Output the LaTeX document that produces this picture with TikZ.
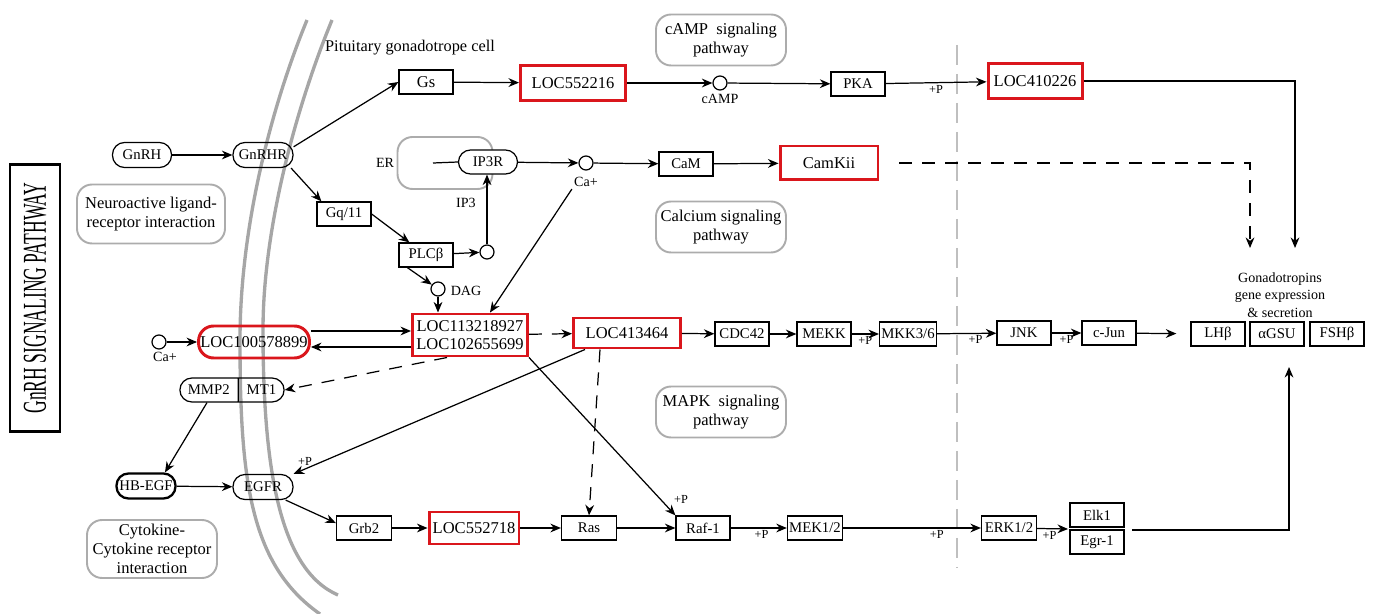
\documentclass[tikz,border=0pt]{standalone}
\usepackage{fontspec}
\setmainfont{Liberation Serif}
\usetikzlibrary{arrows.meta,shapes.multipart,positioning}

\definecolor{locred}{RGB}{218,22,28}

\begin{document}
\begin{tikzpicture}[x=0.02cm, y=-0.02cm,
	basic/.style    = {draw, rectangle, line width=0.7pt, inner sep=1pt, minimum width=1.08cm, minimum height=0.48cm, font=\fontsize{8.4}{9}\selectfont},
	pill/.style     = {basic, rounded corners=0.24cm, minimum width=1.18cm, minimum height=0.5cm},
	loc/.style      = {basic, draw=locred, line width=1.7pt, align=center, font=\fontsize{9.4}{10.5}\selectfont},
	pathway/.style  = {draw=gray!65, line width=1.1pt, rounded corners=0.3cm, align=center, inner sep=1pt, minimum width=2.6cm, minimum height=1.02cm, font=\fontsize{9.4}{11}\selectfont},
	mol/.style      = {circle, draw, line width=0.7pt, minimum size=0.28cm, inner sep=0pt},
	lbl/.style      = {inner sep=1pt, font=\fontsize{8}{9}\selectfont},
	plbl/.style     = {inner sep=1pt, font=\fontsize{7}{8}\selectfont},
	membrane/.style = {draw=gray!70, line width=1.9pt},
	dashedline/.style = {dash pattern=on 0.26cm off 0.2cm},
	>={Stealth[length=6pt,width=5pt]}, line width=0.7pt]

	\useasboundingbox (0,0) rectangle (1378,614);

	% title and cell membrane
	\node[draw, line width=1.3pt, minimum width=5.34cm, minimum height=1.0cm, inner sep=0pt, rotate=90] (title) at (35,298)
		{\scalebox{1}[1.9]{\fontsize{10}{12}\selectfont GnRH SIGNALING PATHWAY}};
	\draw[membrane] (307,20) .. controls (270,110) and (240,230) .. (240,340)
		.. controls (240,480) and (250,565) .. (320,614);
	\draw[membrane] (332,20) .. controls (295,110) and (263,230) .. (263,330)
		.. controls (263,470) and (280,570) .. (338,595);
	\node[font=\fontsize{9.3}{11}\selectfont] (cell) at (410,48) {Pituitary gonadotrope cell};

	% gray dividing line
	\draw[gray!50, line width=1.3pt, dash pattern=on 0.4cm off 0.18cm] (957,45) -- (957,567);

	% pathway boxes
	\node[pathway] (pcamp) at (721,40) {cAMP\ \ signaling\\pathway};
	\node[pathway] (pcalc) at (721,227) {Calcium signaling\\pathway};
	\node[pathway] (pmapk) at (721,412) {MAPK\ \ signaling\\pathway};
	\node[pathway, minimum width=2.96cm, minimum height=1.18cm] (pneuro) at (151,214) {Neuroactive ligand-\\receptor interaction};
	\node[pathway, minimum height=1.16cm] (pcyto) at (152,549) {Cytokine-\\Cytokine receptor\\interaction};

	% receptor and G proteins
	\node[pill] (gnrh) at (142,155) {GnRH};
	\node[pill, minimum width=1.2cm] (gnrhr) at (263,155) {GnRHR};
	\node[basic, font=\fontsize{9.4}{10}\selectfont] (gs) at (426,82) {Gs};
	\node[basic] (gq) at (344,214) {Gq/11};
	\node[basic] (plc) at (426,255) {PLCβ};
	\node[mol] (ip3c) at (487,252) {};
	\node[mol] (dag) at (438,289) {};
	\node[lbl] (daglbl) at (466,291) {DAG};

	% ER and calcium
	\node[draw=gray!65, line width=1.1pt, rounded corners=0.3cm, minimum width=1.9cm, minimum height=1.04cm] (er) at (445,163) {};
	\node[lbl] (erlbl) at (385,163) {ER};
	\coordinate (erch) at (433,163);
	\node[pill, minimum width=1.18cm, minimum height=0.48cm, fill=white] (ip3r) at (488,162) {IP3R};
	\node[lbl] (ip3lbl) at (466,203) {IP3};
	\node[mol] (ca1) at (586,163) {};
	\node[lbl] (ca1lbl) at (586,182) {Ca+};
	\node[basic] (cam) at (686,164) {CaM};
	\node[loc, minimum width=1.96cm, minimum height=0.68cm] (camkii) at (829,163) {CamKii};

	% cAMP branch
	\node[loc, minimum width=2.1cm, minimum height=0.7cm] (loc552216) at (573,83) {LOC552216};
	\node[mol] (camp) at (720,83) {};
	\node[lbl] (camplbl) at (720,99) {cAMP};
	\node[basic] (pka) at (858,84) {PKA};
	\node[loc, minimum width=1.88cm, minimum height=0.7cm] (loc410) at (1035,81) {LOC410226};

	% middle row
	\node[mol] (ca2) at (159,342) {};
	\node[lbl] (ca2lbl) at (165,357) {Ca+};
	\node[loc, rounded corners=0.3cm, minimum width=2.18cm, minimum height=0.64cm] (loc1005) at (254,342) {LOC100578899};
	\node[loc, minimum width=2.3cm, minimum height=0.84cm, font=\fontsize{9.4}{10}\selectfont] (loc11) at (470,335) {LOC113218927\\LOC102655699};
	\node[loc, minimum width=2.14cm, minimum height=0.6cm] (loc413) at (627,333) {LOC413464};
	\node[basic] (cdc42) at (742,334) {CDC42};
	\node[basic] (mekk) at (824,334) {MEKK};
	\node[basic] (mkk) at (908,334) {MKK3/6};
	\node[basic] (jnk) at (1024,333) {JNK};
	\node[basic] (cjun) at (1109,333) {c-Jun};
	\node[basic] (lhb) at (1218,334) {LHβ};
	\node[basic] (agsu) at (1277,334) {αGSU};
	\node[basic] (fshb) at (1337,334) {FSHβ};
	\node[align=center, font=\fontsize{8}{9.9}\selectfont] (gon) at (1280,295) {Gonadotropins\\gene expression\\\& secretion};

	% EGFR and lower row
	\node[draw, line width=0.7pt, rectangle split, rectangle split horizontal, rectangle split parts=2,
		rounded corners=0.24cm, inner xsep=4.5pt, inner ysep=1pt, minimum height=0.48cm,
		font=\fontsize{8.4}{9}\selectfont] (mmp) at (232,390) {MMP2\nodepart{two}MT1};
	\node[pill, line width=1.3pt] (hbegf) at (146,486) {HB-EGF};
	\node[pill, minimum width=1.2cm] (egfr) at (263,487) {EGFR};
	\node[basic, minimum width=1.1cm] (grb2) at (364,528) {Grb2};
	\node[loc, minimum width=1.8cm, minimum height=0.64cm] (loc552718) at (474,528) {LOC552718};
	\node[basic, minimum width=1.1cm] (ras) at (589,528) {Ras};
	\node[basic] (raf) at (703,528) {Raf-1};
	\node[basic, minimum width=1.1cm] (mek) at (815,528) {MEK1/2};
	\node[basic, minimum width=1.1cm] (erk) at (1009,528) {ERK1/2};
	\node[basic] (elk) at (1097,515) {Elk1};
	\node[basic] (egr) at (1097,542) {Egr-1};
	\node[plbl] (egfrp) at (305,461) {+P};
	\node[plbl] (rafp) at (681,499) {+P};

	% free ends
	\coordinate (gin1) at (1295,248);
	\coordinate (gin2) at (1250,248);
	\coordinate (ee) at (1068,529);
	\coordinate (eout) at (1132,530);
	\coordinate (gout) at (1289,367);

	% upper connectors
	\draw[->] (gnrh) -- (gnrhr);
	\draw[->] (gnrhr.15) -- (gs.west);
	\draw[->] (gnrhr.-25) -- ([xshift=0.1cm]gq.north west);
	\draw[->] (gq.east) -- ([xshift=0.22cm]plc.north west);
	\draw[->] (plc) -- (ip3c);
	\draw[->] ([xshift=0.18cm]plc.south west) -- (dag);
	\draw[->] (ip3c.north) -- (ip3c.north |- ip3r.south);
	\draw (erch) -- (ip3r.west);
	\draw[->] (ip3r) -- (ca1);
	\draw[->] (ca1) -- (cam);
	\draw[->] (cam) -- (camkii);
	\draw[->] (gs) -- (loc552216);
	\draw[->] (loc552216) -- (camp);
	\draw[->] (camp) -- (pka);
	\draw[->] (pka) -- node[plbl, below, pos=0.5] {+P} (loc410);
	\draw[->] (loc410.east) -| (gin1);
	\draw[dashedline, ->] ([xshift=0.4cm]camkii.east) -| (gin2);

	% middle connectors
	\draw[->] (ca2) -- (loc1005);
	\draw[->] (loc1005.east |- 0,331) -- (loc11.west |- 0,331);
	\draw[->] (loc11.west |- 0,347) -- (loc1005.east |- 0,347);
	\draw[->] (dag) -- (dag |- loc11.north);
	\draw[->] (ca1lbl.south west) -- ([xshift=0.4cm]loc11.north);
	\draw[dashedline, ->] (loc11) -- (loc413);
	\draw[dashedline, ->] ([xshift=-0.46cm]loc11.south) -- (mmp.east);
	\draw[->] (loc413) -- (cdc42);
	\draw[->] (cdc42) -- (mekk);
	\draw[->] (mekk) -- node[plbl, below, pos=0.5] {+P} (mkk);
	\draw[->] (mkk) -- node[plbl, below, pos=0.65] {+P} (jnk);
	\draw[->] (jnk) -- node[plbl, below, pos=0.5] {+P} (cjun);
	\draw[->, shorten >=0.28cm] (cjun) -- (lhb);

	% lower connectors
	\draw[->] ([xshift=-0.5cm]mmp.south) -- ([xshift=0.38cm]hbegf.north);
	\draw[->] (hbegf) -- (egfr);
	\draw[->] ([xshift=-0.84cm]loc413.south) -- (egfr.north east);
	\draw[->] (egfr.-30) -- (grb2.170);
	\draw[->] (grb2) -- (loc552718);
	\draw[->] (loc552718) -- (ras);
	\draw[->] (ras) -- (raf);
	\draw[->] (loc11.south east) -- (raf.north west);
	\draw[dashedline, ->] ([xshift=-0.54cm]loc413.south) -- (ras.north);
	\draw[->] (raf) -- node[plbl, below, pos=0.55] {+P} (mek);
	\draw[->] (mek) -- node[plbl, below, pos=0.68] {+P} (erk);
	\draw[->] (erk) -- node[plbl, below, pos=0.4] {+P} (ee);
	\draw[->] (eout) -| (gout);

\end{tikzpicture}
\end{document}
